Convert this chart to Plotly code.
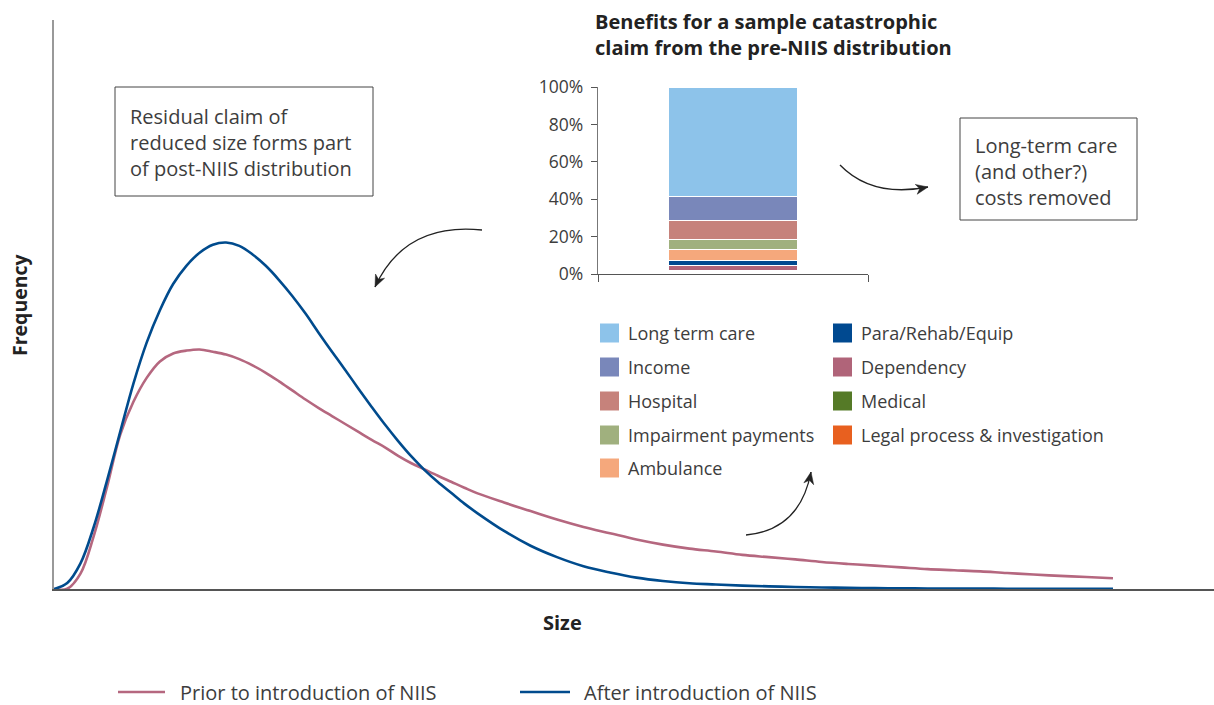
import plotly.graph_objects as go

# ---------------- data ----------------
# claim size (x read points) and frequency
size_grid = [0, 1.25, 2.5, 3.75, 5, 6.25, 7.5, 8.75, 10, 11.25, 12.5, 13.75, 15, 16.25, 17.5,
             18.75, 20, 21.25, 22.5, 23.75, 25, 26.25, 27.5, 28.75, 30, 31.25, 32.5, 33.75,
             35, 36.25, 37.5, 38.75, 40, 42.5, 45, 47.5, 50, 52.5, 55, 57.5, 60, 62.5, 65,
             67.5, 70, 72.5, 75, 77.5, 80, 82.5, 85, 87.5, 90, 92.5, 95, 97.5, 100]
freq_prior = [0, 0.04, 2.7, 9.3, 17.9, 27.1, 32.9, 37.1, 40.0, 41.4, 41.9, 42.1, 41.7, 41.2,
              40.4, 39.3, 38.0, 36.5, 34.9, 33.3, 31.8, 30.4, 29.0, 27.6, 26.2, 24.9, 23.4,
              22.1, 21.0, 19.9, 18.85, 17.8, 16.8, 15.2, 13.7, 12.2, 10.9, 9.8, 8.7, 7.8, 7.1,
              6.6, 6.0, 5.6, 5.2, 4.75, 4.4, 4.1, 3.8, 3.5, 3.3, 3.1, 2.8, 2.55, 2.3, 2.1, 1.9]
freq_after = [0, 1.05, 4.5, 10.9, 19.0, 27.6, 36.1, 43.3, 49.0, 53.6, 56.8, 59.1, 60.5, 60.9,
              60.3, 58.8, 56.8, 54.3, 51.5, 48.4, 45.0, 41.7, 38.5, 35.2, 32.0, 28.9, 26.0,
              23.3, 20.9, 18.8, 16.9, 15.0, 13.3, 10.2, 7.6, 5.6, 4.0, 2.9, 2.0, 1.4, 1.0,
              0.8, 0.6, 0.47, 0.35, 0.26, 0.21, 0.16, 0.12, 0.1, 0.09, 0.07, 0.05, 0.04, 0.04,
              0.04, 0.04]

# stacked benefit categories, bottom to top
benefit_names = ["Legal process & investigation", "Medical", "Dependency", "Para/Rehab/Equip",
                 "Ambulance", "Impairment payments", "Hospital", "Income", "Long term care"]
benefit_share = [0.7, 0.9, 2.8, 2.9, 5.8, 5.5, 10.1, 12.8, 58.5]
benefit_colors = ["#E8601F", "#557A27", "#B06479", "#004990",
                  "#F5A87C", "#A0B07E", "#C6827B", "#7987BA", "#8DC3EA"]

# legend layout of benefit categories (column-wise as in the figure)
legend_col1 = ["Long term care", "Income", "Hospital", "Impairment payments", "Ambulance"]
legend_col2 = ["Para/Rehab/Equip", "Dependency", "Medical", "Legal process & investigation"]

pct_ticks = [0, 20, 40, 60, 80, 100]
pct_labels = ["0%", "20%", "40%", "60%", "80%", "100%"]

PRIOR_COLOR = "#B5677F"
AFTER_COLOR = "#004B8D"
TEXT = "#3d3d3d"
FONT = "Open Sans"

# ---------------- geometry helpers (pixel -> paper) ----------------
L, R, T, B = 54, 1214, 20, 589
def px(x):
    return (x - L) / (R - L)
def py(y):
    return (B - y) / (B - T)

X_MAX = 109.54

fig = go.Figure()

fig.add_trace(go.Scatter(x=size_grid, y=freq_prior, mode="lines", name="Prior to introduction of NIIS",
                         line=dict(color=PRIOR_COLOR, width=2.6, shape="spline", smoothing=1.0),
                         showlegend=False))
fig.add_trace(go.Scatter(x=size_grid, y=freq_after, mode="lines", name="After introduction of NIIS",
                         line=dict(color=AFTER_COLOR, width=2.6, shape="spline", smoothing=1.0),
                         showlegend=False))

color_of = dict(zip(benefit_names, benefit_colors))
for name, val, col in zip(benefit_names, benefit_share, benefit_colors):
    fig.add_trace(go.Bar(x=[0.5], y=[val], name=name, width=0.48, xaxis="x2", yaxis="y2",
                         marker=dict(color=col, line=dict(color="white", width=1.2)),
                         showlegend=False))

shapes = []
annotations = []

# inset legend
rows_y = [333, 367, 401, 435, 468]
for col_items, x0 in ((legend_col1, 600), (legend_col2, 833)):
    for i, name in enumerate(col_items):
        yc = rows_y[i]
        shapes.append(dict(type="rect", xref="paper", yref="paper",
                           x0=px(x0), x1=px(x0 + 19), y0=py(yc - 9.5), y1=py(yc + 9.5),
                           fillcolor=color_of[name], line=dict(width=0)))
        annotations.append(dict(xref="paper", yref="paper", x=px(x0 + 26), y=py(yc),
                                xanchor="left", yanchor="middle", showarrow=False, text=name,
                                font=dict(family=FONT, size=18, color=TEXT)))

# bottom legend for lines
for (x0, x1, tx, label, col) in ((118, 165, 178, "Prior to introduction of NIIS", PRIOR_COLOR),
                                 (520, 570, 582, "After introduction of NIIS", AFTER_COLOR)):
    shapes.append(dict(type="line", xref="paper", yref="paper", x0=px(x0), x1=px(x1),
                       y0=py(692), y1=py(692), line=dict(color=col, width=2.6)))
    annotations.append(dict(xref="paper", yref="paper", x=px(tx), y=py(692), xanchor="left",
                            yanchor="middle", showarrow=False, text=label,
                            font=dict(family=FONT, size=20, color=TEXT)))

# text boxes
shapes.append(dict(type="rect", xref="paper", yref="paper", x0=px(115), x1=px(373),
                   y0=py(87), y1=py(196), line=dict(color="#444", width=1)))
annotations.append(dict(xref="paper", yref="paper", x=px(128), y=py(142), xanchor="left",
                        yanchor="middle", showarrow=False, align="left",
                        text="Residual claim of<br>reduced size forms part<br>of post-NIIS distribution",
                        font=dict(family=FONT, size=20, color=TEXT)))
shapes.append(dict(type="rect", xref="paper", yref="paper", x0=px(960), x1=px(1137),
                   y0=py(118), y1=py(220), line=dict(color="#444", width=1)))
annotations.append(dict(xref="paper", yref="paper", x=px(973), y=py(172), xanchor="left",
                        yanchor="middle", showarrow=False, align="left",
                        text="Long-term care<br>(and other?)<br>costs removed",
                        font=dict(family=FONT, size=20, color=TEXT)))

# curved arrows
def curved_arrow(p0, c, p1):
    path = f"M {px(p0[0])},{py(p0[1])} Q {px(c[0])},{py(c[1])} {px(p1[0])},{py(p1[1])}"
    shapes.append(dict(type="path", xref="paper", yref="paper", path=path,
                       line=dict(color="#222", width=1.3)))
    dx, dy = p1[0] - c[0], p1[1] - c[1]
    n = (dx * dx + dy * dy) ** 0.5
    ux, uy = dx / n, dy / n
    hl, hw = 12, 5
    bx, by = p1[0] - ux * hl, p1[1] - uy * hl
    nx, ny = -uy, ux
    a = (bx + nx * hw, by + ny * hw)
    b = (bx - nx * hw, by - ny * hw)
    k = (p1[0] - ux * hl * 0.7, p1[1] - uy * hl * 0.7)
    tri = (f"M {px(p1[0])},{py(p1[1])} L {px(a[0])},{py(a[1])} L {px(k[0])},{py(k[1])} "
           f"L {px(b[0])},{py(b[1])} Z")
    shapes.append(dict(type="path", xref="paper", yref="paper", path=tri,
                       fillcolor="#222", line=dict(color="#222", width=0.5)))

curved_arrow((482, 230), (405, 222), (375, 287))
curved_arrow((840, 165), (872, 198), (928, 187))
curved_arrow((746, 535), (800, 530), (811, 472))

# titles
annotations.append(dict(xref="paper", yref="paper", x=px(593), y=py(34), xanchor="left",
                        yanchor="middle", showarrow=False, align="left",
                        text="<b>Benefits for a sample catastrophic<br>claim from the pre-NIIS distribution</b>",
                        font=dict(family=FONT, size=20, color="#222")))
annotations.append(dict(xref="paper", yref="paper", x=px(19), y=py(305), xanchor="center",
                        yanchor="middle", showarrow=False, textangle=-90, text="<b>Frequency</b>",
                        font=dict(family=FONT, size=19.5, color="#222")))
annotations.append(dict(xref="paper", yref="paper", x=px(562), y=py(622), xanchor="center",
                        yanchor="middle", showarrow=False, text="<b>Size</b>",
                        font=dict(family=FONT, size=20, color="#222")))

fig.update_layout(
    width=1214, height=705,
    margin=dict(l=L, r=1214 - R, t=T, b=705 - B),
    paper_bgcolor="white", plot_bgcolor="white",
    barmode="stack",
    showlegend=False,
    xaxis=dict(range=[0, X_MAX], showline=True, linecolor="#555", linewidth=1.5, showgrid=False,
               zeroline=False, showticklabels=False, ticks="", fixedrange=True),
    yaxis=dict(range=[0, 100], showline=True, linecolor="#999", linewidth=1.5, showgrid=False,
               zeroline=False, showticklabels=False, ticks="", fixedrange=True),
    xaxis2=dict(domain=[px(598), px(868)], anchor="y2", range=[0, 1], showline=True,
                linecolor="#555", linewidth=1.3, showgrid=False, zeroline=False,
                tickvals=[0, 1], ticks="outside", ticklen=7, tickcolor="#555",
                showticklabels=False),
    yaxis2=dict(domain=[py(274), py(87)], anchor="x2", range=[0, 100], showline=True,
                linecolor="#777", linewidth=1.3, showgrid=False, zeroline=False,
                tickvals=pct_ticks, ticktext=pct_labels, ticks="outside", ticklen=6,
                tickcolor="#555", ticklabelstandoff=4,
                tickfont=dict(family=FONT, size=17.5, color=TEXT)),
    shapes=shapes,
    annotations=annotations,
)

fig.write_html("out.html")
